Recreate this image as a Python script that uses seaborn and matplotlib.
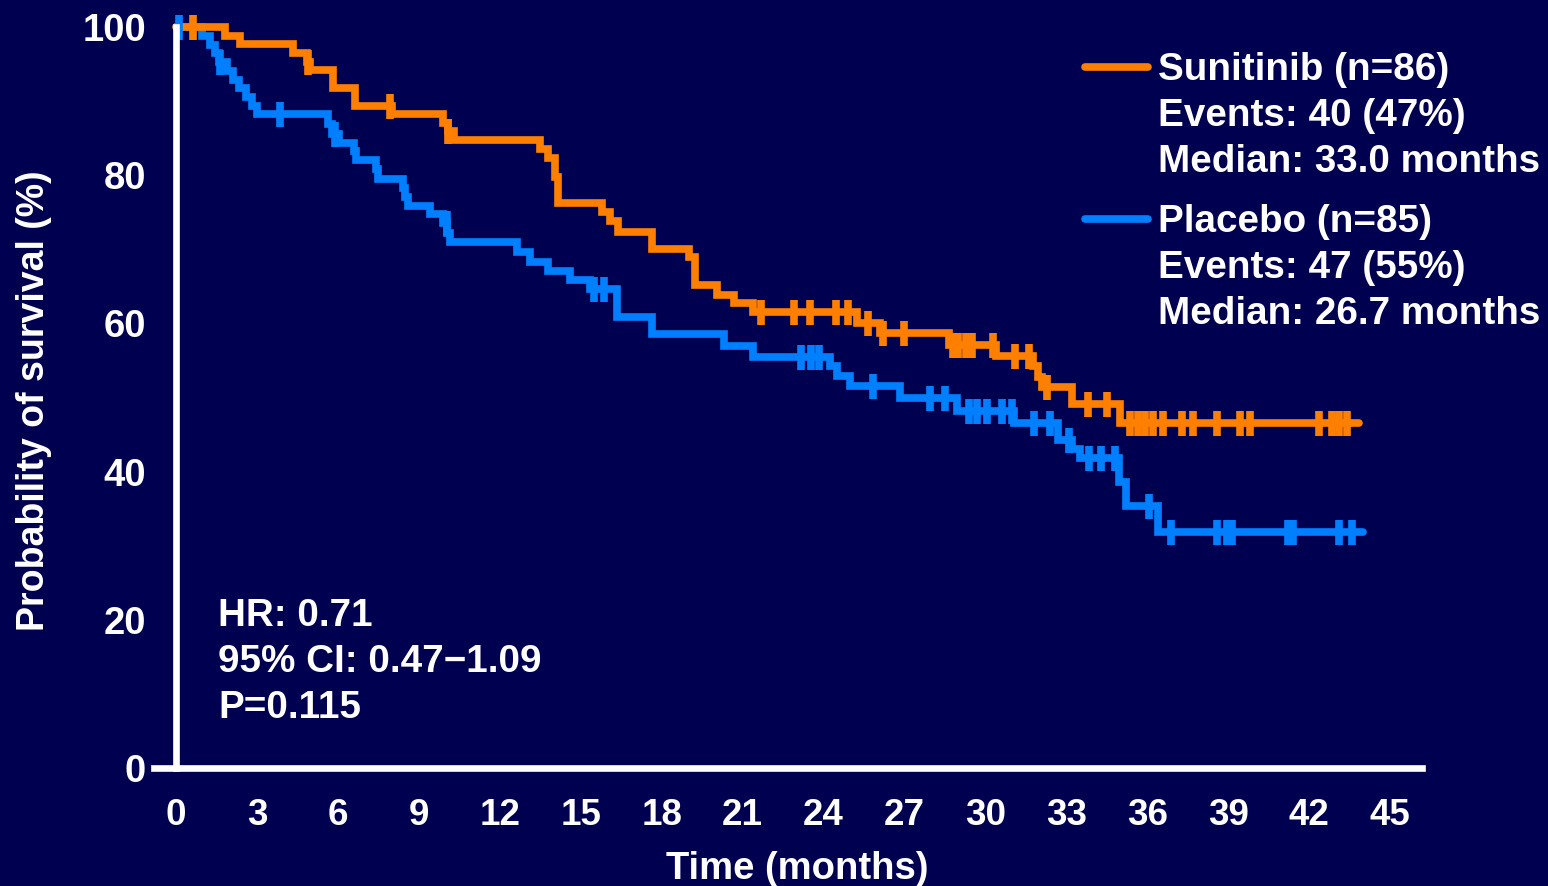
import numpy as np
import pandas as pd
import matplotlib
matplotlib.use("Agg")
import matplotlib.pyplot as plt
import seaborn as sns
from matplotlib.lines import Line2D

# Kaplan-Meier curves: month of each drop and survival (%) after it
sun_time = [0, 1.82, 2.37, 4.35, 4.85, 4.95, 5.83, 6.64, 8.0, 9.9,
            10.1, 10.3, 13.5, 13.8, 14.05, 14.15, 15.8, 16.1, 16.4, 17.65,
            19.0, 19.25, 20.05, 20.7, 21.4, 25.25, 26.1, 28.65, 30.4, 31.75,
            31.95, 32.1, 33.2, 35.0, 43.85]
sun_surv = [100, 98.8, 97.7, 96.5, 95.3, 94.2, 91.8, 89.4, 88.2, 87.1,
            86.0, 84.8, 83.6, 82.3, 79.8, 76.3, 75.1, 73.8, 72.4, 70.0,
            68.9, 65.2, 63.9, 62.7, 61.5, 60.1, 58.7, 57.1, 55.6, 54.2,
            52.8, 51.4, 49.1, 46.6, 46.6]
sun_censored = [0.63, 4.9, 7.95, 10.1, 21.7, 22.9, 23.5, 24.45, 24.9, 25.65,
                26.2, 27.0, 28.8, 29.0, 29.3, 29.5, 30.3, 31.1, 31.6, 32.3,
                33.8, 34.5, 35.35, 35.65, 35.9, 36.2, 36.6, 37.3, 37.7, 38.6,
                39.45, 39.8, 42.35, 42.85, 43.1, 43.4]

pla_time = [0, 0.95, 1.25, 1.45, 1.6, 1.9, 2.1, 2.35, 2.6, 2.8,
            3.0, 5.64, 5.8, 6.05, 6.6, 6.68, 7.4, 7.5, 8.42, 8.5,
            8.6, 9.42, 9.9, 10.05, 10.15, 12.64, 13.13, 13.8, 14.6, 15.35,
            16.35, 17.65, 20.3, 21.4, 24.25, 24.5, 25.0, 26.85, 28.95, 31.05,
            32.7, 33.2, 33.5, 34.95, 35.2, 36.4, 44.0]
pla_surv = [100, 98.8, 97.6, 96.5, 95.3, 94.1, 92.9, 91.8, 90.6, 89.4,
            88.2, 86.9, 85.6, 84.4, 83.2, 82.0, 80.8, 79.5, 78.3, 77.1,
            75.9, 74.7, 73.5, 72.2, 71.0, 69.7, 68.3, 67.1, 65.8, 64.6,
            60.8, 58.6, 56.9, 55.5, 54.2, 52.9, 51.5, 50.0, 48.2, 46.6,
            44.2, 43.0, 41.8, 38.6, 35.4, 31.9, 31.9]
pla_censored = [0.1, 1.63, 3.86, 5.9, 10.04, 15.5, 15.85, 23.15, 23.55, 23.85,
                25.85, 27.95, 28.5, 29.4, 29.7, 30.05, 30.6, 31.0, 31.8, 32.4,
                33.1, 33.85, 34.3, 34.8, 36.05, 36.9, 38.6, 38.95, 39.15, 41.2,
                41.4, 43.1, 43.6]

x_ticks = list(range(0, 46, 3))
y_ticks = [0, 20, 40, 60, 80, 100]

legend_lines = {
    "Sunitinib": ["Sunitinib (n=86)", "Events: 40 (47%)", "Median: 33.0 months"],
    "Placebo": ["Placebo (n=85)", "Events: 47 (55%)", "Median: 26.7 months"],
}
stats_lines = ["HR: 0.71", "95% CI: 0.47\u22121.09", "P=0.115"]

BG = "#000050"
ORANGE = "#FF8000"
BLUE = "#0080FF"
colors = {"Sunitinib": ORANGE, "Placebo": BLUE}

sns.set_theme(style="white")
plt.rcParams["font.family"] = ["Liberation Sans", "DejaVu Sans"]
plt.rcParams["font.weight"] = "bold"

W, H = 1548, 886
fig = plt.figure(figsize=(W / 100, H / 100), dpi=100)
fig.patch.set_facecolor(BG)

def px(x, y):
    return x / W, 1 - y / H

ax = fig.add_axes([154.4 / W, (H - 768) / H, 1268 / W, 741 / H])
ax.set_facecolor(BG)

df = pd.concat([
    pd.DataFrame({"month": pla_time, "survival": pla_surv, "arm": "Placebo"}),
    pd.DataFrame({"month": sun_time, "survival": sun_surv, "arm": "Sunitinib"}),
], ignore_index=True)

sns.lineplot(data=df, x="month", y="survival", hue="arm",
             hue_order=["Placebo", "Sunitinib"], palette=colors,
             drawstyle="steps-post", linewidth=5.5, estimator=None, sort=False,
             legend=False, ax=ax)
for ln in ax.lines:
    ln.set_clip_on(False)
    ln.set_solid_joinstyle("miter")

# censoring ticks sit on the curve level at their month
for times, surv, cens, arm in [(pla_time, pla_surv, pla_censored, "Placebo"),
                               (sun_time, sun_surv, sun_censored, "Sunitinib")]:
    idx = np.searchsorted(times, cens, side="right") - 1
    lev = np.asarray(surv)[idx]
    ax.plot(cens, lev, ls="none", marker="|", ms=18, mew=5.5,
            color=colors[arm], clip_on=False)

ax.set_xlim(-0.8, 46.2)
ax.set_ylim(0, 100)
ax.set_xticks(x_ticks)
ax.set_yticks(y_ticks)
ax.set_xlabel("")
ax.set_ylabel("")
for s in ["top", "right"]:
    ax.spines[s].set_visible(False)
ax.spines["left"].set_position(("data", 0))
ax.spines["left"].set_bounds(0, 100)
for s in ["left", "bottom"]:
    ax.spines[s].set_color("white")
    ax.spines[s].set_linewidth(4.8)
    ax.spines[s].set_capstyle("projecting")
ax.tick_params(axis="both", direction="out", length=14.5, width=4.8,
               colors="white", pad=7)
ax.tick_params(axis="x", labelsize=26.5)
ax.tick_params(axis="y", labelsize=27.5)
for lab in ax.get_xticklabels() + ax.get_yticklabels():
    lab.set_fontweight("bold")

fig.text(*px(34, 401), "Probability of survival (%)", rotation=90,
         ha="center", va="center", color="white", fontsize=27, fontweight="bold")
fig.text(*px(797, 869), "Time (months)", ha="center", va="center",
         color="white", fontsize=27.5, fontweight="bold")

# legend block
for arm, y0 in [("Sunitinib", 67), ("Placebo", 219)]:
    fig.add_artist(Line2D([1085 / W, 1148 / W], [1 - y0 / H, 1 - y0 / H],
                          color=colors[arm], lw=5.5, transform=fig.transFigure))
    for i, txt in enumerate(legend_lines[arm]):
        fig.text(*px(1158, y0 + 3 + 46 * i), txt, ha="left", va="center",
                 color="white", fontsize=27.8, fontweight="bold")

for i, txt in enumerate(stats_lines):
    fig.text(*px(218, 616 + 46 * i), txt, ha="left", va="center",
             color="white", fontsize=27.8, fontweight="bold")

fig.savefig("out.png", dpi=100, facecolor=BG)
